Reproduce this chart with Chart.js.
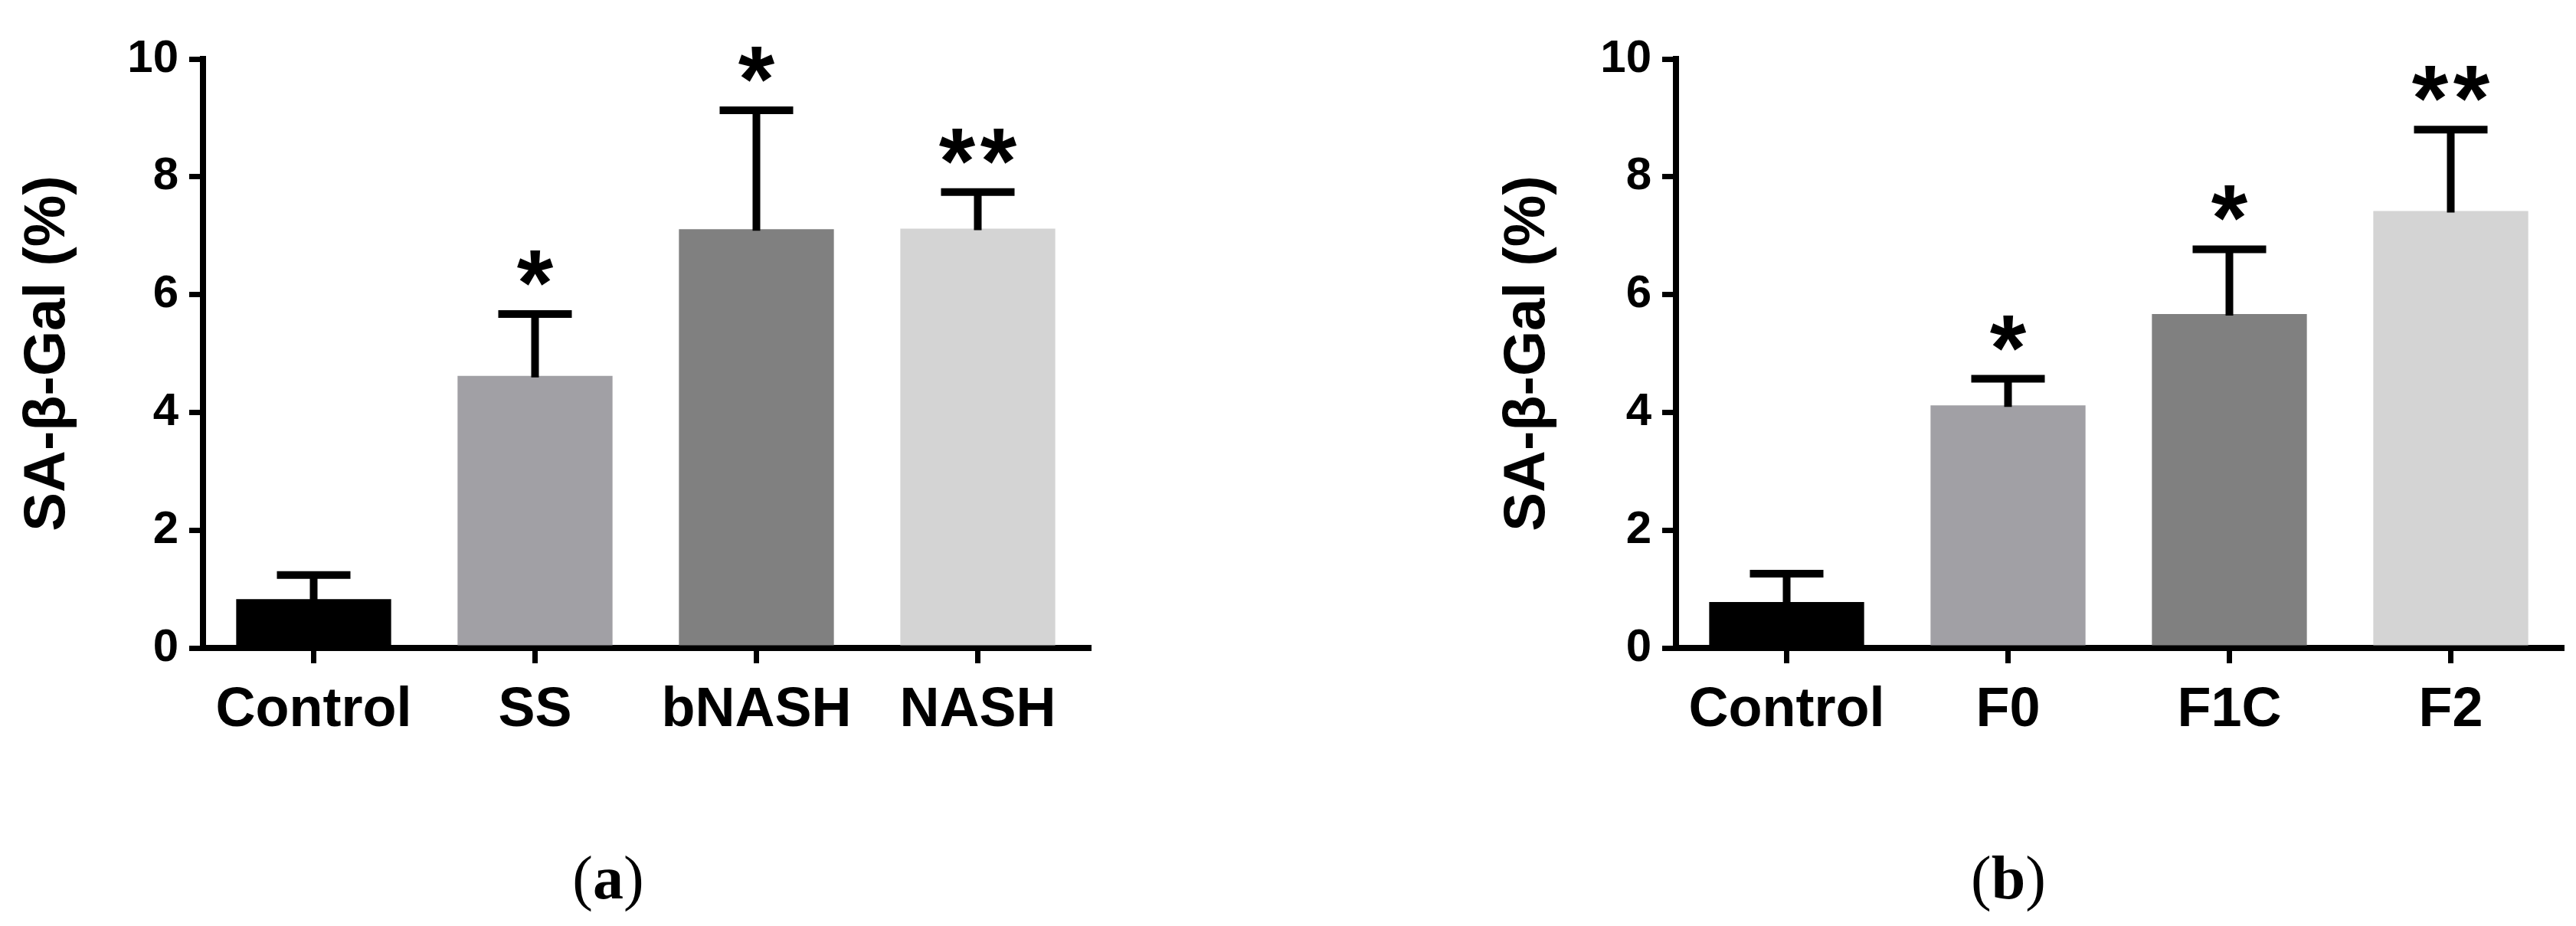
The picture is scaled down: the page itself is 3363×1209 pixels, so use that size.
<!DOCTYPE html>
<html>
<head>
<meta charset="utf-8">
<script src="https://cdn.jsdelivr.net/npm/chart.js@4/dist/chart.umd.min.js"></script>
<style>
  body { margin: 0; background: #fff; }
  #page { position: relative; width: 3363px; height: 1209px; background: #fff; overflow: hidden; }
  canvas { position: absolute; top: 0; }
  .caption {
    position: absolute;
    top: 1106px;
    width: 200px;
    margin-left: -100px;
    text-align: center;
    font-family: "Liberation Serif", "Times New Roman", serif;
    font-size: 80px;
    line-height: 1;
    color: #000;
  }
</style>
</head>
<body>
<div id="page">
  <canvas id="chartA" width="1460" height="1000" style="left:0px"></canvas>
  <canvas id="chartB" width="1460" height="1000" style="left:1923px"></canvas>
  <div class="caption" style="left:794px">(<b>a</b>)</div>
  <div class="caption" style="left:2622px">(<b>b</b>)</div>
</div>
<script>
const categoriesA = ["Control", "SS", "bNASH", "NASH"];
const meansA = [0.83, 4.62, 7.11, 7.12];
const errorsA = [0.41, 1.05, 2.02, 0.62];
const starsA = ["", "*", "*", "**"];

const categoriesB = ["Control", "F0", "F1C", "F2"];
const meansB = [0.78, 4.12, 5.67, 7.42];
const errorsB = [0.48, 0.45, 1.10, 1.38];
const starsB = ["", "*", "*", "**"];

const yTicks = [0, 2, 4, 6, 8, 10];
const yTitle = "SA-β-Gal (%)";

const barColors = ["#000000", "#a1a0a5", "#808080", "#d4d4d4"];

Chart.defaults.font.family = "'Liberation Sans', Arial, sans-serif";
Chart.defaults.font.weight = "bold";
Chart.defaults.color = "#000";

// upper error bar + significance stars, drawn on top of the bars
const errorBarPlugin = {
  id: "errorBars",
  afterDatasetsDraw(chart, args, opts) {
    const ctx = chart.ctx;
    const yScale = chart.scales.y;
    const meta = chart.getDatasetMeta(0);
    const means = chart.data.datasets[0].data;

    ctx.save();
    ctx.strokeStyle = "#000";
    ctx.fillStyle = "#000";
    ctx.lineWidth = 10;
    ctx.lineCap = "butt";

    meta.data.forEach((bar, i) => {
      const x = bar.x;
      const yTop = yScale.getPixelForValue(means[i]);
      const yErr = yScale.getPixelForValue(means[i] + opts.errors[i]);

      ctx.beginPath();
      ctx.moveTo(x, yTop + 2);
      ctx.lineTo(x, yErr);
      ctx.moveTo(x - 48, yErr);
      ctx.lineTo(x + 48, yErr);
      ctx.stroke();

      const stars = opts.stars[i];
      if (!stars) return;
      ctx.font = "bold 122px 'Liberation Sans', Arial, sans-serif";
      ctx.textAlign = "center";
      ctx.textBaseline = "alphabetic";
      const m = ctx.measureText("*");
      const cy = yErr - 60;
      const baseline = cy + (m.actualBoundingBoxAscent - m.actualBoundingBoxDescent) / 2;
      for (let k = 0; k < stars.length; k++) {
        const dx = (k - (stars.length - 1) / 2) * 54;
        ctx.fillText("*", x + dx, baseline);
      }
    });
    ctx.restore();
  },
};

function drawPanel(canvasId, labels, means, errors, stars, titlePad) {
  const ctx = document.getElementById(canvasId);

  new Chart(ctx, {
    type: "bar",
    data: {
      labels: labels,
      datasets: [
        {
          data: means,
          backgroundColor: barColors,
          borderWidth: 0,
          categoryPercentage: 1,
          barPercentage: 0.7,
        },
      ],
    },
    options: {
      responsive: false,
      animation: false,
      events: [],
      layout: {
        padding: { top: 77, right: 39, bottom: 0, left: 0 },
      },
      plugins: {
        legend: { display: false },
        tooltip: { enabled: false },
        errorBars: { errors: errors, stars: stars },
      },
      scales: {
        x: {
          offset: true,
          afterFit(scale) {
            scale.height = 154;
          },
          grid: {
            offset: false,
            drawOnChartArea: false,
            drawTicks: true,
            tickLength: 20,
            lineWidth: 7,
            color: "#000",
          },
          border: { display: true, width: 8, color: "#000" },
          ticks: {
            padding: 19,
            font: { size: 72, weight: "bold" },
            color: "#000",
            maxRotation: 0,
          },
        },
        y: {
          min: 0,
          max: 10,
          afterFit(scale) {
            scale.width = 265;
          },
          afterBuildTicks(scale) {
            scale.ticks = yTicks.map((v) => ({ value: v }));
          },
          grid: {
            drawOnChartArea: false,
            drawTicks: true,
            tickLength: 18,
            lineWidth: 7,
            color: "#000",
          },
          border: { display: true, width: 8, color: "#000" },
          ticks: {
            padding: 14,
            font: { size: 60, weight: "bold" },
            color: "#000",
          },
          title: {
            display: true,
            text: yTitle,
            font: { size: 76, weight: "bold" },
            color: "#000",
            padding: { top: titlePad, bottom: 0 },
          },
        },
      },
    },
    plugins: [errorBarPlugin],
  });
}

drawPanel("chartA", categoriesA, meansA, errorsA, starsA, 17);
drawPanel("chartB", categoriesB, meansB, errorsB, starsB, 26);
</script>
</body>
</html>
